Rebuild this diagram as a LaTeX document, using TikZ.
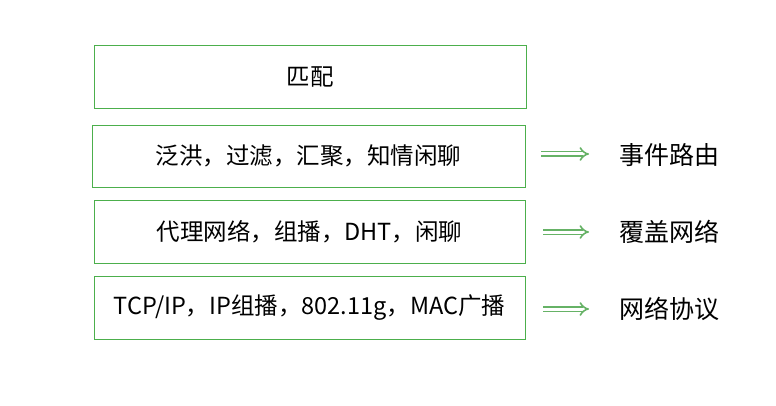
\documentclass[tikz,border=0pt]{standalone}
\usepackage{fontspec}
\setmainfont{Noto Sans CJK SC}
\usetikzlibrary{arrows.meta}
\begin{document}
\begin{tikzpicture}[x=1pt,y=-1pt,
  layer/.style={draw=green!55!black!70!white, line width=0.8pt, minimum height=63pt, inner sep=0pt, font=\fontsize{23.5}{28}\selectfont},
  lbl/.style={font=\fontsize{25}{30}\selectfont, anchor=west},
  imp/.style={double=white, draw=green!50!black!60!white, double distance=3pt, line width=1.6pt, -{Implies}}]
\useasboundingbox (0,0) rectangle (776,406);
\node[layer, minimum width=432pt] (m) at (310,77) {匹配};
\node[layer, minimum width=433pt, minimum height=62pt] (a) at (308.5,156) {泛洪，过滤，汇聚，知情闲聊};
\node[layer, minimum width=431pt] (b) at (309.5,231.5) {代理网络，组播，DHT，闲聊};
\node[layer, minimum width=431pt] (c) at (309.5,307.5) {TCP/IP，IP组播，802.11g，MAC广播};
\node[lbl] (la) at (616,155) {事件路由};
\node[lbl] (lb) at (616,232) {覆盖网络};
\node[lbl] (lc) at (616,309) {网络协议};
\coordinate (a1) at (541,154); \coordinate (a2) at (589,154);
\coordinate (b1) at (543,232); \coordinate (b2) at (589,232);
\coordinate (c1) at (543,309); \coordinate (c2) at (589,309);
\draw[imp] (a1) -- (a2);
\draw[imp] (b1) -- (b2);
\draw[imp] (c1) -- (c2);
\end{tikzpicture}
\end{document}
